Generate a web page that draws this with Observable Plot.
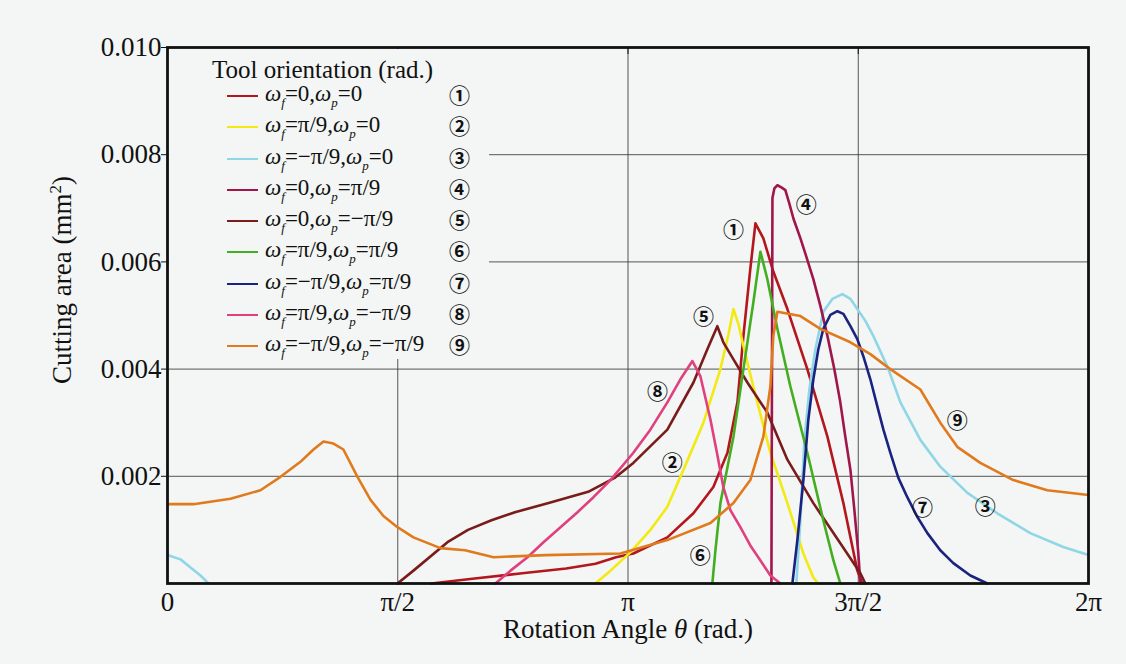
<!DOCTYPE html>
<html>
<head>
<meta charset="utf-8">
<script src="https://cdn.jsdelivr.net/npm/d3@7"></script>
<script src="https://cdn.jsdelivr.net/npm/@observablehq/plot@0.6"></script>
<style>
  html, body { margin: 0; padding: 0; background: #f3f6f4; }
  #wrap { position: relative; width: 1126px; height: 664px; font-family: "Liberation Serif", "Times New Roman", serif; color: #111; }
  #legend { position: absolute; left: 169px; top: 49px; width: 320px; height: 310px; background: #f3f6f4; }
  .ltitle { position: absolute; left: 43px; top: 8px; font-size: 25px; line-height: 26px; white-space: nowrap; }
  .lrow { position: absolute; left: 0; height: 30px; white-space: nowrap; }
  .swatch { position: absolute; left: 58px; width: 31px; height: 0; border-top: 2.5px solid; }
  .ltext { position: absolute; left: 96px; font-size: 23px; line-height: 26px; top: -14px; }
  .ltext i { font-style: italic; }
  .ltext sub { font-size: 13px; vertical-align: -6px; font-style: italic; }
  .lnum { position: absolute; left: 280px; top: -13px; font-size: 21px; line-height: 24px; font-weight: 700; font-family: "Noto Sans CJK JP", "DejaVu Sans", sans-serif; }
  .xlabel { position: absolute; left: 0; width: 1256px; top: 614px; text-align: center; font-size: 27px; white-space: nowrap; }
  .ylabel { position: absolute; left: 62px; top: 280px; transform: translate(-50%, -50%) rotate(-90deg); font-size: 27px; white-space: nowrap; }
</style>
</head>
<body>
<div id="wrap"></div>
<script>
// ---------- data (θ in rad, cutting area in mm²) ----------
const seriesIds = [1, 2, 3, 4, 5, 6, 7, 8, 9];
const seriesColors = ["#b3161d", "#f2ea12", "#8fd6e6", "#a0164a", "#7a1c1c", "#43ae1f", "#1b2380", "#e0407e", "#e07a1c"];
const omegaF = ["0", "π/9", "−π/9", "0", "0", "π/9", "−π/9", "π/9", "−π/9"];
const omegaP = ["0", "0", "0", "π/9", "−π/9", "π/9", "π/9", "−π/9", "−π/9"];
const circled = ["①", "②", "③", "④", "⑤", "⑥", "⑦", "⑧", "⑨"];

const xTickValues = [0, Math.PI / 2, Math.PI, 3 * Math.PI / 2, 2 * Math.PI];
const xTickLabels = ["0", "π/2", "π", "3π/2", "2π"];
const yTickValues = [0.002, 0.004, 0.006, 0.008, 0.010];

const curve1 = [[1.80,0],[2.08,0.00009],[2.42,0.00019],[2.72,0.00028],[2.92,0.00037],[3.06,0.00049],[3.178,0.00056],[3.41,0.00086],[3.588,0.00131],[3.724,0.0018],[3.82,0.00244],[3.888,0.00338],[3.929,0.00462],[3.976,0.00587],[4.011,0.00672],[4.065,0.00644],[4.133,0.00582],[4.229,0.00512],[4.365,0.004],[4.502,0.00274],[4.611,0.0015],[4.706,0.00024],[4.74,0]];
const curve2 = [[2.919,0],[3.022,0.00024],[3.158,0.00058],[3.294,0.001],[3.41,0.00143],[3.52,0.00212],[3.656,0.003],[3.772,0.004],[3.827,0.00465],[3.861,0.00512],[3.895,0.00484],[3.929,0.00443],[3.976,0.0039],[4.024,0.00338],[4.113,0.00244],[4.229,0.0015],[4.338,0.00056],[4.406,0.00011],[4.44,0]];
const curve3a = [[0,0.00053],[0.089,0.00045],[0.157,0.0003],[0.225,0.00015],[0.28,0]];
const curve3b = [[4.29,0],[4.318,0.00118],[4.345,0.00268],[4.379,0.00362],[4.42,0.00437],[4.474,0.00507],[4.536,0.00531],[4.604,0.0054],[4.659,0.00531],[4.706,0.00512],[4.761,0.0049],[4.815,0.00462],[4.911,0.00405],[5.0,0.00338],[5.136,0.00268],[5.272,0.00218],[5.457,0.00169],[5.661,0.00131],[5.886,0.00094],[6.111,0.00068],[6.283,0.00053]];
const curve4 = [[4.12,0],[4.127,0.00719],[4.14,0.00737],[4.161,0.00743],[4.188,0.00739],[4.215,0.00734],[4.242,0.00709],[4.27,0.00681],[4.318,0.00644],[4.358,0.0061],[4.406,0.00568],[4.454,0.00518],[4.502,0.00462],[4.549,0.004],[4.59,0.00338],[4.624,0.00274],[4.659,0.00212],[4.686,0.00137],[4.713,0.00056],[4.727,0]];
const curve5 = [[1.569,0],[1.678,0.00024],[1.91,0.00077],[2.05,0.001],[2.21,0.00118],[2.37,0.00133],[2.60,0.0015],[2.87,0.00171],[3.05,0.00197],[3.178,0.00225],[3.41,0.00287],[3.588,0.00375],[3.683,0.00437],[3.751,0.0048],[3.792,0.0045],[3.861,0.00418],[3.956,0.00375],[4.092,0.00319],[4.229,0.00231],[4.406,0.0015],[4.59,0.00075],[4.727,0.00019],[4.761,0]];
const curve6 = [[3.717,0],[3.738,0.00062],[3.772,0.0015],[3.861,0.00274],[3.929,0.004],[3.997,0.00525],[4.045,0.00619],[4.092,0.00568],[4.161,0.00475],[4.249,0.00368],[4.365,0.00244],[4.474,0.00118],[4.543,0.00043],[4.59,0]];
const curve7 = [[4.263,0],[4.297,0.00081],[4.338,0.00193],[4.372,0.00306],[4.406,0.00381],[4.44,0.00437],[4.474,0.00475],[4.522,0.00501],[4.57,0.00508],[4.611,0.00503],[4.659,0.0048],[4.706,0.00456],[4.747,0.00424],[4.795,0.00381],[4.843,0.0033],[4.884,0.00287],[4.931,0.00244],[4.986,0.00197],[5.047,0.00161],[5.116,0.00124],[5.184,0.00094],[5.272,0.00062],[5.361,0.00038],[5.477,0.00015],[5.593,0]];
const curve8 = [[2.237,0],[2.34,0.00024],[2.456,0.00049],[2.565,0.00077],[2.681,0.00105],[2.797,0.00133],[2.906,0.00161],[3.022,0.00193],[3.178,0.00244],[3.294,0.00287],[3.41,0.00338],[3.499,0.00381],[3.581,0.00415],[3.635,0.00387],[3.704,0.00306],[3.751,0.0024],[3.792,0.0018],[3.84,0.00137],[3.908,0.00105],[3.976,0.00071],[4.045,0.00043],[4.113,0.00015],[4.181,0]];
const curve9 = [[0,0.00148],[0.177,0.00148],[0.43,0.00158],[0.634,0.00174],[0.771,0.00199],[0.907,0.00227],[0.996,0.0025],[1.064,0.00265],[1.132,0.00261],[1.2,0.0025],[1.296,0.00199],[1.385,0.00156],[1.473,0.00126],[1.569,0.00105],[1.678,0.00086],[1.862,0.00066],[2.03,0.00062],[2.224,0.00049],[2.58,0.00053],[3.09,0.00056],[3.41,0.00081],[3.704,0.00113],[3.861,0.0015],[3.976,0.00193],[4.065,0.00274],[4.113,0.00368],[4.133,0.00462],[4.161,0.00507],[4.318,0.00499],[4.454,0.00475],[4.659,0.0045],[4.795,0.00428],[4.931,0.004],[5.136,0.00362],[5.272,0.003],[5.388,0.00255],[5.545,0.00225],[5.77,0.00193],[6.002,0.00174],[6.283,0.00165]];

const curveSets = [[curve1], [curve2], [curve3a, curve3b], [curve4], [curve5], [curve6], [curve7], [curve8], [curve9]];

// circled labels on the chart: [θ, area]
const labelPos = [[3.861,0.00659],[3.444,0.00225],[5.579,0.00143],[4.358,0.00706],[3.656,0.00497],[3.635,0.00051],[5.15,0.00141],[3.342,0.00357],[5.388,0.00302]];

// ---------- build ----------
const rows = [];
curveSets.forEach((segs, i) => segs.forEach((seg, j) => seg.forEach(([t, v]) => rows.push({id: seriesIds[i], seg: `${i}-${j}`, t, v, color: seriesColors[i]}))));
const annotations = labelPos.map(([t, v], i) => ({t, v, text: circled[i]}));

const font = '"Liberation Serif", "Times New Roman", serif';
const chart = Plot.plot({
  width: 1126,
  height: 664,
  marginTop: 47,
  marginRight: 38,
  marginBottom: 81,
  marginLeft: 167,
  style: {fontFamily: font, background: "transparent", color: "#111", overflow: "visible"},
  x: {domain: [0, 2 * Math.PI]},
  y: {domain: [0, 0.010]},
  marks: [
    Plot.gridX(xTickValues.slice(1, 4), {stroke: "#3a3a3a", strokeOpacity: 0.85, strokeWidth: 1}),
    Plot.gridY(yTickValues.slice(0, 4), {stroke: "#3a3a3a", strokeOpacity: 0.85, strokeWidth: 1}),
    Plot.axisX({ticks: xTickValues, tickFormat: (d, i) => xTickLabels[i], tickSize: 0, tickPadding: 8, fontSize: 27, label: null}),
    Plot.axisX({anchor: "top", ticks: xTickValues.slice(1, 4), tickSize: -6, tickFormat: () => "", label: null}),
    Plot.axisY({ticks: yTickValues, tickFormat: d3.format(".3f"), tickSize: 6, tickPadding: 0, fontSize: 27, label: null}),
    Plot.line(rows, {x: "t", y: "v", z: "seg", stroke: "color", strokeWidth: 2.6, curve: "linear"}),
    Plot.text(annotations, {x: "t", y: "v", text: "text", fontSize: 21, fontWeight: 700, fontFamily: '"Noto Sans CJK JP", "DejaVu Sans", sans-serif', fill: "#111"}),
    Plot.frame({stroke: "#111", strokeWidth: 2.8})
  ]
});

const wrap = document.getElementById("wrap");
wrap.appendChild(chart);

// legend (sits over the plot's top-left corner with an opaque background)
const legend = document.createElement("div");
legend.id = "legend";
let html = `<div class="ltitle">Tool orientation (rad.)</div>`;
seriesIds.forEach((id, i) => {
  const top = 46 + i * 31.25;
  html += `<div class="lrow" style="top:${top}px">
    <div class="swatch" style="border-color:${seriesColors[i]}"></div>
    <div class="ltext"><i>ω</i><sub>f</sub>=${omegaF[i]},<i>ω</i><sub>p</sub>=${omegaP[i]}</div>
    <div class="lnum">${circled[i]}</div>
  </div>`;
});
legend.innerHTML = html;
wrap.appendChild(legend);

const xl = document.createElement("div");
xl.className = "xlabel";
xl.innerHTML = "Rotation Angle <i>θ</i> (rad.)";
wrap.appendChild(xl);
const yl = document.createElement("div");
yl.className = "ylabel";
yl.innerHTML = "Cutting area (mm<sup style='font-size:17px'>2</sup>)";
wrap.appendChild(yl);
</script>
</body>
</html>
